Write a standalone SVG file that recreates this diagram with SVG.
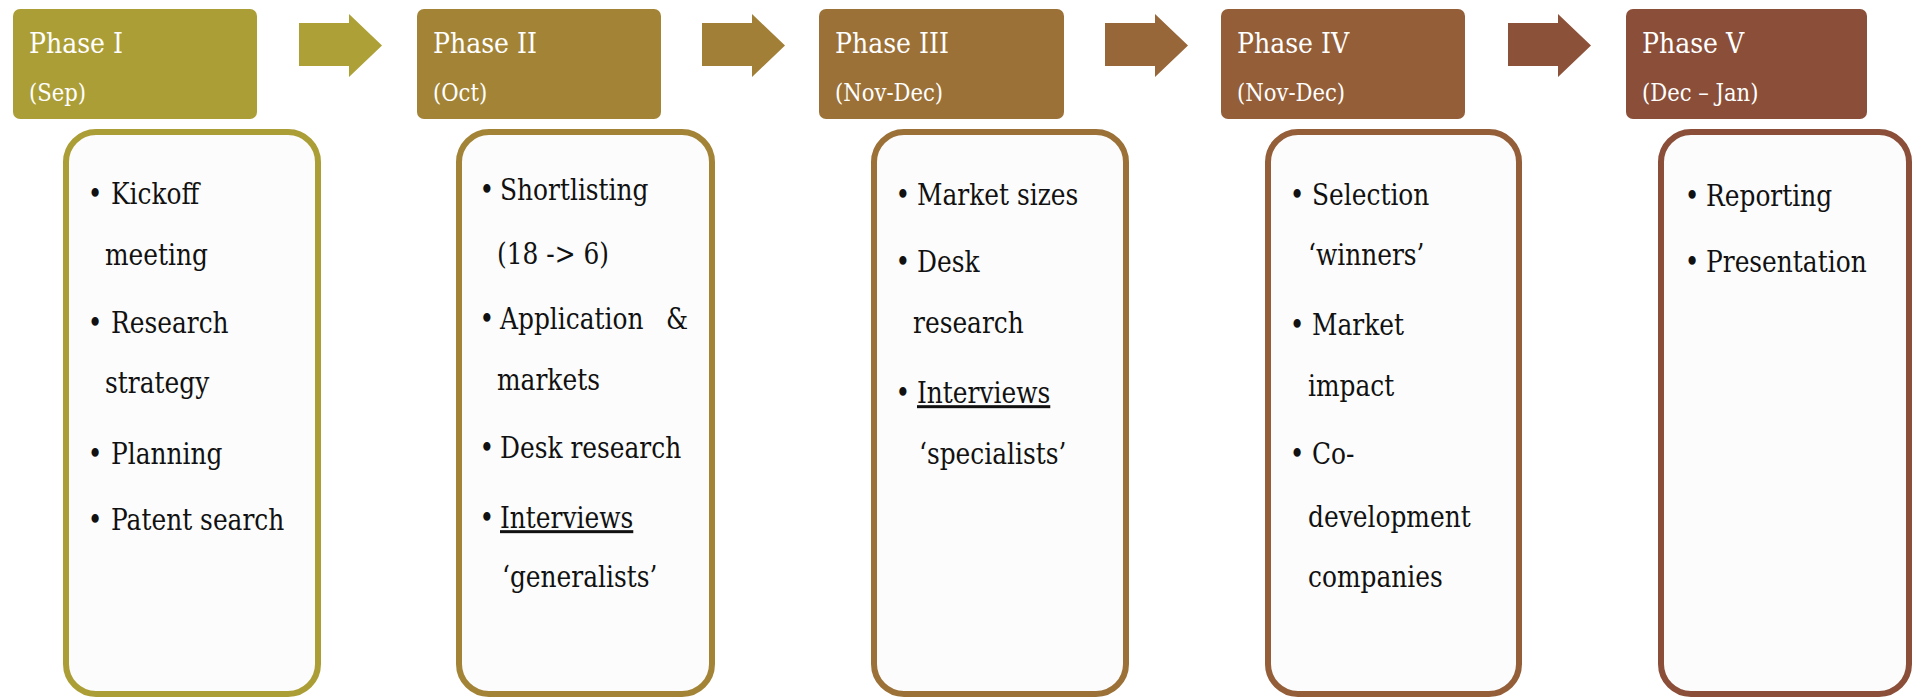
<svg xmlns="http://www.w3.org/2000/svg" width="1913" height="697" viewBox="0 0 1913 697">
  <style>
    .hdr { stroke: none; }
    .body { fill: #FCFCFC; stroke-width: 6; }
    .title { font-family: "DejaVu Serif", "Liberation Serif", serif; font-size: 28px; fill: #FFFFFF; }
    .date { font-family: "DejaVu Serif", "Liberation Serif", serif; font-size: 23.5px; fill: #FFFFFF; }
    .item { font-family: "DejaVu Serif", "Liberation Serif", serif; font-size: 30px; fill: #111111; }
    .dot { text-anchor: middle; }
    .u { text-decoration: underline; }
  </style>
  <defs>
    <path id="arrow" d="M0,0 H50 V-9 L83,22.5 L50,54 V43 H0 Z"/>
  </defs>

  <rect width="1913" height="697" fill="#FFFFFF"/>

  <!-- process arrows between phase headers -->
  <g id="connectors">
    <use href="#arrow" x="299" y="23" fill="#ACA036"/>
    <use href="#arrow" x="702" y="23" fill="#A27F37"/>
    <use href="#arrow" x="1105" y="23" fill="#976639"/>
    <use href="#arrow" x="1508" y="23" fill="#8C5139"/>
  </g>

  <!-- Phase I -->
  <g id="phase1">
    <rect class="hdr" x="13" y="9" width="244" height="110" rx="7" fill="#AC9E36"/>
    <g transform="translate(29 0) scale(0.9 1) translate(-29 0)">
      <text class="title" x="29" y="53">Phase I</text>
      <text class="date" x="29" y="101">(Sep)</text>
    </g>
    <rect class="body" x="66" y="132" width="252" height="562" rx="30" stroke="#AC9E36"/>
    <g transform="translate(111 0) scale(0.83 1) translate(-111 0)">
      <text class="item dot" x="91.7" y="204">•</text>
      <text class="item" x="111" y="204">Kickoff</text>
      <text class="item" x="103.8" y="265">meeting</text>
      <text class="item dot" x="91.7" y="333">•</text>
      <text class="item" x="111" y="333">Research</text>
      <text class="item" x="103.8" y="393">strategy</text>
      <text class="item dot" x="91.7" y="464">•</text>
      <text class="item" x="111" y="464">Planning</text>
      <text class="item dot" x="91.7" y="530">•</text>
      <text class="item" x="111" y="530">Patent search</text>
    </g>
  </g>

  <!-- Phase II -->
  <g id="phase2">
    <rect class="hdr" x="417" y="9" width="244" height="110" rx="7" fill="#A38437"/>
    <g transform="translate(433 0) scale(0.9 1) translate(-433 0)">
      <text class="title" x="433" y="53">Phase II</text>
      <text class="date" x="433" y="101">(Oct)</text>
    </g>
    <rect class="body" x="459" y="132" width="253" height="562" rx="30" stroke="#A38437"/>
    <g transform="translate(500 0) scale(0.83 1) translate(-500 0)">
      <text class="item dot" x="484.3" y="200">•</text>
      <text class="item" x="500" y="200">Shortlisting</text>
      <text class="item" x="496.4" y="264">(18 -&gt; 6)</text>
      <text class="item dot" x="484.3" y="329">•</text>
      <text class="item" x="500" y="329">Application <tspan x="700">&amp;</tspan></text>
      <text class="item" x="496.4" y="390">markets</text>
      <text class="item dot" x="484.3" y="458">•</text>
      <text class="item" x="500" y="458">Desk research</text>
      <text class="item dot" x="484.3" y="528">•</text>
      <text class="item" x="500" y="528"><tspan class="u">Interviews</tspan></text>
      <text class="item" x="502.4" y="587">‘generalists’</text>
    </g>
  </g>

  <!-- Phase III -->
  <g id="phase3">
    <rect class="hdr" x="819" y="9" width="245" height="110" rx="7" fill="#9B7138"/>
    <g transform="translate(835 0) scale(0.9 1) translate(-835 0)">
      <text class="title" x="835" y="53">Phase III</text>
      <text class="date" x="835" y="101">(Nov-Dec)</text>
    </g>
    <rect class="body" x="874" y="132" width="252" height="562" rx="30" stroke="#9B7138"/>
    <g transform="translate(917 0) scale(0.83 1) translate(-917 0)">
      <text class="item dot" x="900.1" y="205">•</text>
      <text class="item" x="917" y="205">Market sizes</text>
      <text class="item dot" x="900.1" y="272">•</text>
      <text class="item" x="917" y="272">Desk</text>
      <text class="item" x="912.2" y="333">research</text>
      <text class="item dot" x="900.1" y="403">•</text>
      <text class="item" x="917" y="403"><tspan class="u">Interviews</tspan></text>
      <text class="item" x="919.4" y="464">‘specialists’</text>
    </g>
  </g>

  <!-- Phase IV -->
  <g id="phase4">
    <rect class="hdr" x="1221" y="9" width="244" height="110" rx="7" fill="#935E38"/>
    <g transform="translate(1237 0) scale(0.9 1) translate(-1237 0)">
      <text class="title" x="1237" y="53">Phase IV</text>
      <text class="date" x="1237" y="101">(Nov-Dec)</text>
    </g>
    <rect class="body" x="1268" y="132" width="251" height="562" rx="30" stroke="#935E38"/>
    <g transform="translate(1312 0) scale(0.83 1) translate(-1312 0)">
      <text class="item dot" x="1293.9" y="205">•</text>
      <text class="item" x="1312" y="205">Selection</text>
      <text class="item" x="1307.2" y="265">‘winners’</text>
      <text class="item dot" x="1293.9" y="335">•</text>
      <text class="item" x="1312" y="335">Market</text>
      <text class="item" x="1307.2" y="396">impact</text>
      <text class="item dot" x="1293.9" y="464">•</text>
      <text class="item" x="1312" y="464">Co-</text>
      <text class="item" x="1307.2" y="527">development</text>
      <text class="item" x="1307.2" y="587">companies</text>
    </g>
  </g>

  <!-- Phase V -->
  <g id="phase5">
    <rect class="hdr" x="1626" y="9" width="241" height="110" rx="7" fill="#8A4E39"/>
    <g transform="translate(1642 0) scale(0.9 1) translate(-1642 0)">
      <text class="title" x="1642" y="53">Phase V</text>
      <text class="date" x="1642" y="101">(Dec – Jan)</text>
    </g>
    <rect class="body" x="1661" y="132" width="248" height="562" rx="30" stroke="#8A4E39"/>
    <g transform="translate(1706 0) scale(0.83 1) translate(-1706 0)">
      <text class="item dot" x="1689.1" y="206">•</text>
      <text class="item" x="1706" y="206">Reporting</text>
      <text class="item dot" x="1689.1" y="272">•</text>
      <text class="item" x="1706" y="272">Presentation</text>
    </g>
  </g>
</svg>
